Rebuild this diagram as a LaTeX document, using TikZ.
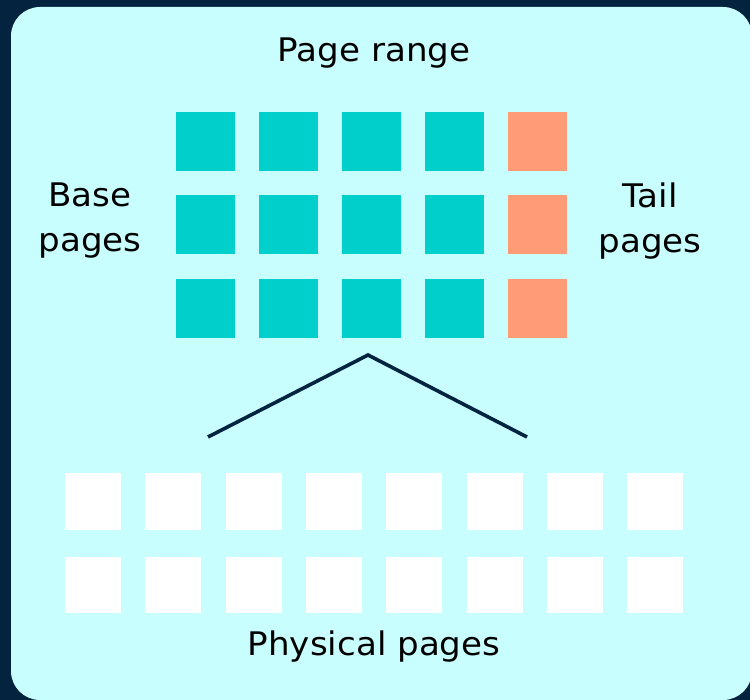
\documentclass[tikz,border=0pt]{standalone}
\usepackage{fontspec}
\setmainfont[FakeStretch=1.05]{DejaVu Sans}
\definecolor{navy}{HTML}{03233F}
\definecolor{panel}{HTML}{C8FFFE}
\definecolor{teal}{HTML}{00CFCB}
\definecolor{peach}{HTML}{FF9B77}
\tikzset{
  page/.style={fill=teal, draw=none, minimum size=59pt, inner sep=0pt},
  tail/.style={page, fill=peach},
  phys/.style={fill=white, draw=none, minimum size=56pt, inner sep=0pt},
  lbl/.style={font=\fontsize{32.5}{45}\selectfont, text=black, align=center, inner sep=0pt},
  link/.style={draw=navy, line width=3.6pt}
}
\begin{document}
\begin{tikzpicture}[x=1pt,y=-1pt]
\useasboundingbox (0,0) rectangle (750,700);
\fill[navy] (0,0) rectangle (750,700);
\fill[panel, rounded corners=29pt] (11,7) rectangle (752,700);
% page range grid
\foreach \j in {0,1,2}{
  \foreach \i in {0,1,2,3}{
    \node[page] (p\i\j) at ({205.5+83*\i},{141.5+83.5*\j}) {};
  }
  \node[tail] (p4\j) at ({205.5+83*4},{141.5+83.5*\j}) {};
}
% physical pages
\foreach \j in {0,1}{
  \foreach \i in {0,...,7}{
    \node[phys] (q\i\j) at ({93+80.3*\i},{501.5+83*\j}) {};
  }
}
\node[lbl, anchor=base] (title) at (374,62) {Page range};
\node[lbl] (base) at (90,221) {Base\\pages};
\node[lbl] (tailt) at (650,221) {Tail\\pages};
\node[lbl, anchor=base] (phys) at (374,655) {Physical pages};
\coordinate (apex) at (368,355);
\coordinate (lend) at (208,437);
\coordinate (rend) at (527,437);
\draw[link] (lend) -- (apex) -- (rend);
\end{tikzpicture}
\end{document}
